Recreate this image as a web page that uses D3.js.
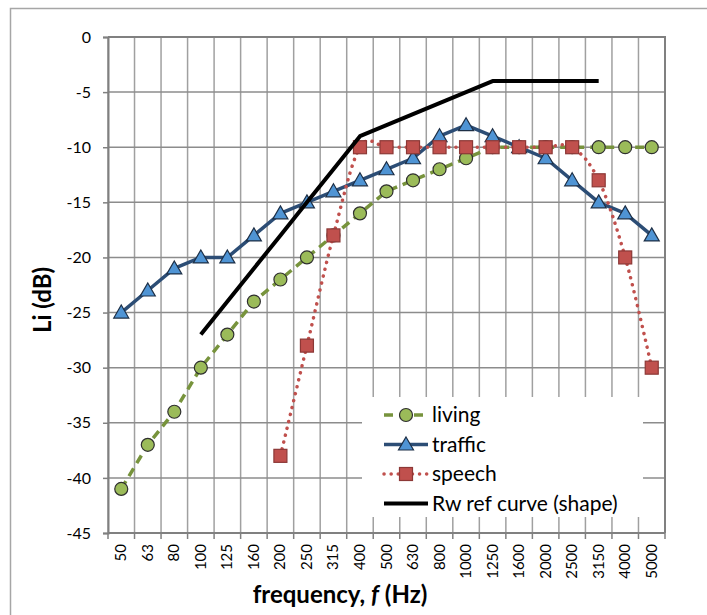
<!DOCTYPE html>
<html>
<head>
<meta charset="utf-8">
<script src="https://cdn.jsdelivr.net/npm/d3@7"></script>
<style>
  body { margin: 0; background: #fff; }
  svg { font-family: Lato, "Liberation Sans", sans-serif; }
</style>
</head>
<body>
<div id="chart"></div>
<script>
// Frequency bands (Hz) and Li values (dB)
const freqs = ["50", "63", "80", "100", "125", "160", "200", "250", "315", "400", "500",
               "630", "800", "1000", "1250", "1600", "2000", "2500", "3150", "4000", "5000"];
const living  = [-41, -37, -34, -30, -27, -24, -22, -20, -18, -16, -14,
                 -13, -12, -11, -10, -10, -10, -10, -10, -10, -10];
const traffic = [-25, -23, -21, -20, -20, -18, -16, -15, -14, -13, -12,
                 -11, -9, -8, -9, -10, -11, -13, -15, -16, -18];
const speech  = [null, null, null, null, null, null, -38, -28, -18, -10, -10,
                 -10, -10, -10, -10, -10, -10, -10, -13, -20, -30];
const rwRef   = [null, null, null, -27, -24, -21, -18, -15, -12, -9, -8,
                 -7, -6, -5, -4, -4, -4, -4, -4, null, null];
const yTicks = [0, -5, -10, -15, -20, -25, -30, -35, -40, -45];

const W = 707, H = 615;
const margin = { top: 37, right: 42, bottom: 82, left: 108 },
      width = W - margin.left - margin.right,
      height = H - margin.top - margin.bottom;

const svg = d3.select("#chart").append("svg")
    .attr("width", W)
    .attr("height", H);

// outer chart border
svg.append("rect")
    .attr("x", 10.5).attr("y", 8.5)
    .attr("width", 760).attr("height", 700)
    .attr("fill", "none")
    .attr("stroke", "#a6a6a6")
    .attr("stroke-width", 1.5);

const g = svg.append("g")
    .attr("transform", `translate(${margin.left},${margin.top})`);

const x = d3.scaleBand().domain(freqs).range([0, width]).padding(0);
const y = d3.scaleLinear().domain([-45, 0]).range([height, 0]);
const cx = d => x(d) + x.bandwidth() / 2;

// grid
const bounds = freqs.map(f => x(f)).concat([width]);
g.append("g").selectAll("line.vg")
  .data(bounds)
  .enter().append("line")
    .attr("x1", d => d).attr("x2", d => d)
    .attr("y1", 0).attr("y2", height)
    .attr("stroke", "#a0a0a0").attr("stroke-width", 1.5);
g.append("g").selectAll("line.hg")
  .data(yTicks)
  .enter().append("line")
    .attr("x1", 0).attr("x2", width)
    .attr("y1", d => y(d)).attr("y2", d => y(d))
    .attr("stroke", "#8c8c8c").attr("stroke-width", 1.5);

// plot border top/right
g.append("path")
    .attr("d", `M0,0H${width}V${height}`)
    .attr("fill", "none")
    .attr("stroke", "#808080").attr("stroke-width", 2);

// Y axis
g.append("g")
    .call(d3.axisLeft(y).tickValues(yTicks).tickSize(5).tickPadding(12))
    .call(a => a.select(".domain").attr("stroke", "#808080").attr("stroke-width", 2))
    .call(a => a.selectAll(".tick line").attr("stroke", "#808080").attr("stroke-width", 1.5))
    .call(a => a.selectAll("text").attr("fill", "#000").style("font-size", "16px")
        .style("font-family", "Lato").text(d => d === 0 ? "0" : String(d)));

// X axis: ticks between categories
const xAxis = g.append("g").attr("transform", `translate(0,${height})`);
xAxis.append("line")
    .attr("x1", 0).attr("x2", width)
    .attr("stroke", "#808080").attr("stroke-width", 2);
xAxis.selectAll("line.tk")
  .data(bounds)
  .enter().append("line")
    .attr("x1", d => d).attr("x2", d => d)
    .attr("y1", 0).attr("y2", 6)
    .attr("stroke", "#808080").attr("stroke-width", 1.5);
xAxis.selectAll("text")
  .data(freqs)
  .enter().append("text")
    .attr("transform", d => `translate(${cx(d) + 5},11) rotate(-90)`)
    .attr("text-anchor", "end")
    .style("font-size", "15px")
    .text(d => d);

// axis titles
const xt = svg.append("text")
    .attr("x", 340).attr("y", 603)
    .attr("text-anchor", "middle")
    .style("font-size", "24px").style("font-weight", "bold");
xt.append("tspan").text("frequency, ");
xt.append("tspan").style("font-style", "italic").text("f");
xt.append("tspan").text(" (Hz)");

svg.append("text")
    .attr("transform", "translate(51,300) rotate(-90)")
    .attr("text-anchor", "middle")
    .style("font-size", "24px").style("font-weight", "bold")
    .text("Li (dB)");

// series styles
const series = [
  { name: "living", data: living, stroke: "#77933c", dash: "9,6", cap: "butt", width: 3.5,
    marker: "circle", fill: "#9bbb59", mstroke: "#2f2f2f", curve: d3.curveLinear },
  { name: "traffic", data: traffic, stroke: "#2c4d75", dash: null, cap: "butt", width: 3.5,
    marker: "triangle", fill: "#4f94d4", mstroke: "#1d2f46", curve: d3.curveLinear },
  { name: "speech", data: speech, stroke: "#c0504d", dash: "0.1,7", cap: "round", width: 3.5,
    marker: "square", fill: "#c0504d", mstroke: "#8c3836", curve: d3.curveCatmullRom.alpha(0) },
  { name: "Rw ref curve (shape)", data: rwRef, stroke: "#000", dash: null, cap: "butt", width: 4,
    marker: null, curve: d3.curveLinear }
];

function drawMarker(sel, s) {
  if (s.marker === "circle") {
    sel.append("circle").attr("r", 6.5);
  } else if (s.marker === "triangle") {
    sel.append("path").attr("d", "M0,-7.5L7.5,5.5L-7.5,5.5Z");
  } else if (s.marker === "square") {
    sel.append("rect").attr("x", -6.5).attr("y", -6.5).attr("width", 13).attr("height", 13);
  }
  sel.selectAll("*").attr("fill", s.fill).attr("stroke", s.mstroke).attr("stroke-width", 1.2);
}

series.forEach(s => {
  const pts = freqs.map((f, i) => ({ f, v: s.data[i] })).filter(d => d.v !== null);
  const line = d3.line().x(d => cx(d.f)).y(d => y(d.v)).curve(s.curve);
  g.append("path")
      .datum(pts)
      .attr("d", line)
      .attr("fill", "none")
      .attr("stroke", s.stroke)
      .attr("stroke-width", s.width)
      .attr("stroke-linecap", s.cap)
      .attr("stroke-linejoin", "round")
      .attr("stroke-dasharray", s.dash);
  if (s.marker) {
    pts.forEach(d => {
      const m = g.append("g").attr("transform", `translate(${cx(d.f)},${y(d.v)})`);
      drawMarker(m, s);
    });
  }
});

// legend
const legend = svg.append("g").attr("transform", "translate(362,397)");
legend.append("rect")
    .attr("width", 281).attr("height", 120)
    .attr("fill", "#fff");
series.forEach((s, i) => {
  const row = legend.append("g").attr("transform", `translate(0,${18 + i * 29.5})`);
  row.append("line")
      .attr("x1", 22).attr("x2", 66)
      .attr("stroke", s.stroke)
      .attr("stroke-width", s.width)
      .attr("stroke-linecap", s.cap)
      .attr("stroke-dasharray", s.dash);
  if (s.marker) drawMarker(row.append("g").attr("transform", "translate(44,0)"), s);
  row.append("text")
      .attr("x", 70).attr("y", 7)
      .style("font-size", "21px")
      .text(s.name);
});
</script>
</body>
</html>
